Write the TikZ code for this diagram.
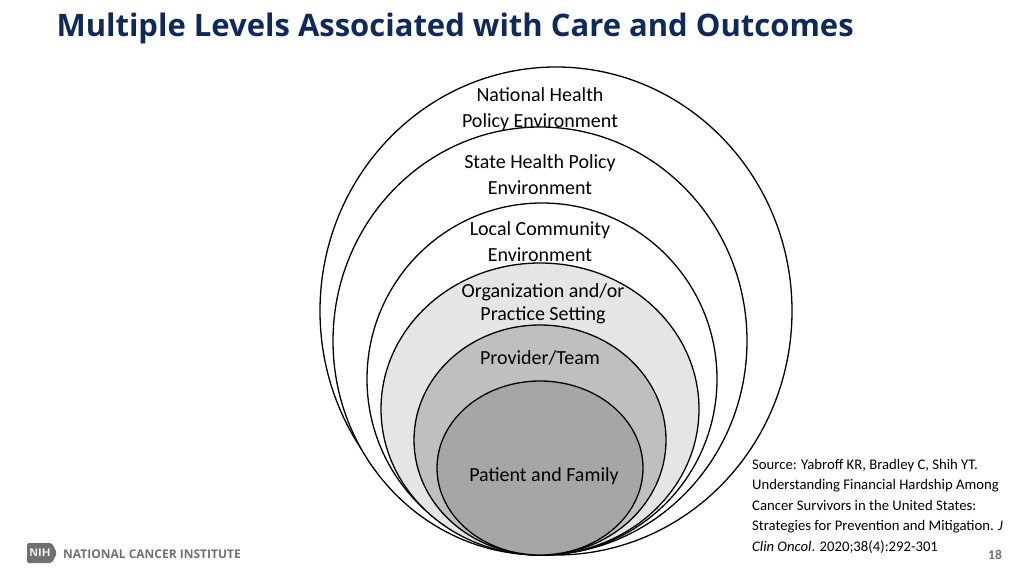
\documentclass[tikz,border=0pt]{standalone}
\usepackage{fontspec}
\setmainfont{Carlito}
\newfontfamily\titlefont{Open Sans}
\usetikzlibrary{positioning}
\definecolor{navy}{HTML}{0E2A5C}
\definecolor{logogray}{HTML}{707070}

\begin{document}
\begin{tikzpicture}[x=1pt,y=-1pt,
        ring/.style={draw,line width=1.3pt},
        lbl/.style={font=\fontsize{20}{26}\selectfont,align=center,inner sep=0pt}]
    \useasboundingbox (0,0) rectangle (1024,575);

    % title
    \node[anchor=west,font=\titlefont\bfseries\fontsize{31}{36}\selectfont,text=navy] (title) at (53,28) {Multiple Levels Associated with Care and Outcomes};

    % nested levels
    \draw[ring,fill=white]        (556,311) ellipse (236 and 244);
    \draw[ring,fill=white]        (540,341) ellipse (207 and 214);
    \draw[ring,fill=white]        (542,379) ellipse (175 and 176);
    \draw[ring,fill=black!10]     (540,409) ellipse (159 and 146);
    \draw[ring,fill=black!25]     (540,440) ellipse (126 and 115);
    \draw[ring,fill=black!35]     (540,468) ellipse (103 and 87);

    \node[lbl] (national) at (540,109) {National Health\\Policy Environment};
    \node[lbl] (state)    at (540,175) {State Health Policy\\Environment};
    \node[lbl] (local)    at (540,242) {Local Community\\Environment};
    \node[lbl,font=\fontsize{20}{23}\selectfont] (org) at (543,304) {Organization and/or\\Practice Setting};
    \node[lbl] (team)     at (540,358) {Provider/Team};
    \node[lbl] (patient)  at (544,476) {Patient and Family};

    % source
    \node[anchor=north west,align=left,inner sep=0pt,font=\fontsize{14.7}{20.5}\selectfont] (source) at (752,459)
        {Source: Yabroff KR, Bradley C, Shih YT.\\Understanding Financial Hardship Among\\Cancer Survivors in the United States:\\Strategies for Prevention and Mitigation. \emph{J}\\\emph{Clin Oncol}. 2020;38(4):292-301};

    % footer
    \fill[logogray,rounded corners=2pt] (27,543) -- (52,543) -- (57,553) -- (52,563) -- (27,563) -- cycle;
    \node[text=white,font=\sffamily\bfseries\fontsize{11}{11}\selectfont,inner sep=0pt] (nih) at (40,553) {NIH};
    \node[anchor=west,text=logogray,font=\titlefont\bfseries\fontsize{12}{12}\selectfont,inner sep=0pt] (nci) at (63,554) {NATIONAL CANCER INSTITUTE};
    \node[text=logogray,font=\bfseries\fontsize{13.5}{14}\selectfont] (page) at (995,555) {18};
\end{tikzpicture}
\end{document}
